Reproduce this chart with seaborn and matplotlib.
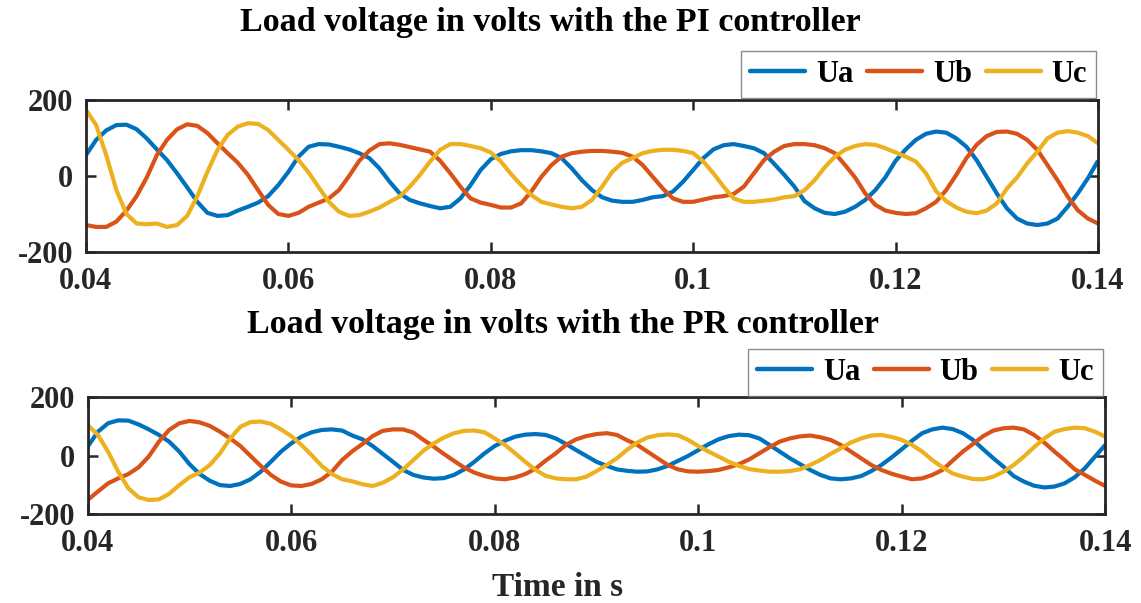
import numpy as np
import pandas as pd
import matplotlib
matplotlib.use("Agg")
import matplotlib.pyplot as plt
import seaborn as sns
from matplotlib.lines import Line2D

# ---------------- data (1 ms sampling) ----------------
time_s = np.arange(40, 141) / 1000.0

ua_pi = [55, 95, 120, 134, 135, 123, 99, 70, 42, 7,
         -30, -68, -97, -105, -103, -91, -81, -70, -53, -24,
         11, 51, 77, 84, 83, 77, 70, 60, 47, 20,
         -15, -46, -63, -72, -79, -85, -81, -59, -24, 16,
         44, 58, 65, 68, 68, 65, 60, 47, 20, -11,
         -37, -56, -65, -68, -68, -63, -56, -53, -41, -15,
         16, 47, 70, 81, 84, 79, 73, 60, 32, 3,
         -28, -66, -85, -97, -100, -94, -81, -63, -37, -3,
         40, 70, 95, 111, 117, 114, 99, 77, 42, -2,
         -46, -85, -112, -125, -129, -125, -112, -81, -46, -6,
         40]
ub_pi = [-129, -134, -134, -120, -91, -53, -4, 55, 95, 123,
         136, 132, 113, 86, 60, 35, 3, -37, -76, -100,
         -105, -97, -81, -70, -59, -37, 0, 40, 67, 84,
         86, 82, 76, 70, 64, 40, 7, -28, -59, -70,
         -76, -83, -83, -72, -41, -2, 29, 51, 60, 64,
         66, 66, 64, 61, 51, 29, -2, -33, -59, -68,
         -68, -62, -56, -53, -47, -28, 7, 42, 64, 79,
         84, 84, 81, 73, 60, 29, -4, -46, -76, -91,
         -97, -100, -98, -85, -68, -37, 3, 47, 82, 105,
         116, 117, 111, 95, 69, 29, -11, -54, -90, -112,
         -125]
uc_pi = [174, 134, 55, -37, -100, -125, -127, -125, -134, -129,
         -105, -53, 11, 69, 108, 130, 139, 137, 121, 95,
         69, 42, 9, -30, -68, -94, -105, -103, -94, -83,
         -68, -54, -28, 3, 38, 69, 84, 84, 79, 73,
         62, 38, 5, -24, -50, -68, -75, -81, -85, -81,
         -63, -28, 11, 35, 47, 60, 66, 69, 69, 66,
         60, 38, 7, -28, -59, -68, -68, -65, -62, -56,
         -53, -37, -11, 23, 51, 69, 79, 84, 82, 73,
         62, 51, 38, 7, -40, -66, -83, -94, -98, -91,
         -72, -33, -4, 33, 64, 99, 114, 118, 114, 105,
         86]

ua_pr = [31, 82, 111, 121, 120, 107, 90, 71, 48, 14,
         -29, -63, -86, -101, -104, -97, -81, -55, -21, 14,
         42, 65, 80, 88, 90, 86, 69, 56, 33, 6,
         -21, -49, -66, -75, -79, -77, -66, -47, -21, 8,
         33, 51, 65, 72, 74, 71, 59, 40, 19, -1,
         -21, -35, -47, -52, -55, -54, -47, -35, -18, -1,
         19, 39, 56, 67, 72, 70, 59, 37, 14, -9,
         -29, -49, -66, -78, -81, -78, -70, -53, -32, -6,
         22, 51, 77, 90, 96, 91, 77, 54, 22, -9,
         -38, -70, -89, -103, -109, -106, -95, -74, -43, -3,
         37]
ub_pr = [-152, -123, -95, -78, -63, -40, -3, 48, 88, 111,
         119, 114, 102, 82, 59, 33, -1, -35, -66, -89,
         -102, -104, -97, -81, -55, -15, 15, 40, 67, 85,
         90, 90, 79, 54, 31, 6, -18, -41, -58, -70,
         -78, -81, -75, -63, -45, -17, 8, 37, 56, 67,
         74, 77, 71, 53, 37, 14, -9, -32, -47, -54,
         -55, -53, -49, -40, -29, -13, 8, 29, 48, 59,
         66, 69, 63, 54, 37, 14, -9, -32, -49, -62,
         -72, -81, -78, -66, -49, -17, 14, 40, 67, 86,
         94, 96, 90, 71, 45, 14, -15, -47, -66, -86,
         -104]
uc_pr = [105, 71, 14, -55, -112, -143, -152, -150, -131, -101,
         -74, -58, -32, 8, 59, 99, 115, 117, 109, 90,
         67, 37, 2, -35, -63, -81, -88, -98, -104, -93,
         -74, -47, -15, 17, 42, 62, 77, 85, 86, 80,
         59, 37, 8, -21, -49, -69, -78, -81, -81, -72,
         -53, -32, -9, 20, 45, 62, 70, 73, 70, 54,
         33, 14, -3, -21, -35, -46, -51, -55, -55, -53,
         -47, -32, -15, 6, 25, 45, 59, 69, 71, 64,
         54, 37, 14, -15, -40, -61, -72, -80, -81, -72,
         -55, -32, -3, 29, 59, 82, 91, 96, 94, 82,
         65]

series_names = ["Ua", "Ub", "Uc"]
x_ticks = [0.04, 0.06, 0.08, 0.1, 0.12, 0.14]
x_tick_labels = ["0.04", "0.06", "0.08", "0.1", "0.12", "0.14"]
y_ticks = [-200, 0, 200]
y_tick_labels = ["-200", "0", "200"]
titles = ["Load voltage in volts with the PI controller",
          "Load voltage in volts with the PR controller"]
x_label = "Time in s"

# ---------------- style ----------------
sns.set_theme(style="white")
plt.rcParams["font.family"] = ["Liberation Serif", "DejaVu Serif"]
plt.rcParams["font.weight"] = "bold"
plt.rcParams["axes.labelweight"] = "bold"
plt.rcParams["lines.solid_joinstyle"] = "round"
plt.rcParams["lines.solid_capstyle"] = "round"

colors = ["#0072BD", "#D95319", "#EDB120"]
palette = dict(zip(series_names, colors))
ink = "#262626"
tick_fs = 22
legend_fs = 22
title_fs = 24.5
xlabel_fs = 24

fig = plt.figure(figsize=(11.41, 6.03), dpi=100)
W, H = 1141.0, 603.0
ax1 = fig.add_axes([86 / W, 1 - 252 / H, 1012 / W, 152 / H])
ax2 = fig.add_axes([87.7 / W, 1 - 514 / H, 1017.6 / W, 116.7 / H])


def long_df(a, b, c):
    frames = []
    for name, vals in zip(series_names, (a, b, c)):
        frames.append(pd.DataFrame({"t": time_s, "v": vals, "phase": name}))
    return pd.concat(frames, ignore_index=True)


for ax, (a, b, c) in ((ax1, (ua_pi, ub_pi, uc_pi)), (ax2, (ua_pr, ub_pr, uc_pr))):
    df = long_df(a, b, c)
    sns.lineplot(data=df, x="t", y="v", hue="phase", palette=palette,
                 linewidth=3.0, ax=ax, legend=False, estimator=None, sort=False)
    for ln in ax.get_lines():
        ln.set_solid_joinstyle("round")
        ln.set_solid_capstyle("butt")
    ax.set_xlim(0.04, 0.14)
    ax.set_ylim(-200, 200)
    ax.set_xticks(x_ticks)
    ax.set_xticklabels(x_tick_labels)
    ax.set_yticks(y_ticks)
    ax.set_yticklabels(y_tick_labels)
    ax.set_xlabel("")
    ax.set_ylabel("")
    for s in ax.spines.values():
        s.set_visible(True)
        s.set_color(ink)
        s.set_linewidth(2.0)
    ax.tick_params(axis="both", which="major", direction="in", length=7,
                   width=1.8, color=ink, labelcolor=ink, labelsize=tick_fs,
                   top=True, right=True, bottom=True, left=True)
    ax.tick_params(axis="x", pad=11)
    ax.tick_params(axis="y", pad=9)
    for lab in ax.get_xticklabels() + ax.get_yticklabels():
        lab.set_fontweight("bold")

    handles = [Line2D([], [], color=col, lw=3.2) for col in colors]
    if ax is ax1:
        anchor = (1096 / W, 1 - 98 / H)
    else:
        anchor = (1102.7 / W, 1 - 396 / H)
    leg = ax.legend(handles, series_names, ncol=3, loc="lower right",
                    bbox_to_anchor=anchor, bbox_transform=fig.transFigure,
                    borderaxespad=0, frameon=True, fancybox=False,
                    prop={"size": legend_fs, "weight": "bold"},
                    handlelength=1.8, handletextpad=0.35, columnspacing=0.45,
                    borderpad=0.3)
    leg.get_frame().set_edgecolor("#6e6e6e")
    leg.get_frame().set_linewidth(1.0)
    for txt in leg.get_texts():
        txt.set_color("black")

fig.text(550 / W, 1 - 31 / H, titles[0], ha="center", va="baseline",
         fontsize=title_fs, fontweight="bold", color="black")
fig.text(563 / W, 1 - 333 / H, titles[1], ha="center", va="baseline",
         fontsize=title_fs, fontweight="bold", color="black")
fig.text(558 / W, 1 - 596 / H, x_label, ha="center", va="baseline",
         fontsize=xlabel_fs, fontweight="bold", color=ink)

fig.savefig("out.png", dpi=100, facecolor="white")
